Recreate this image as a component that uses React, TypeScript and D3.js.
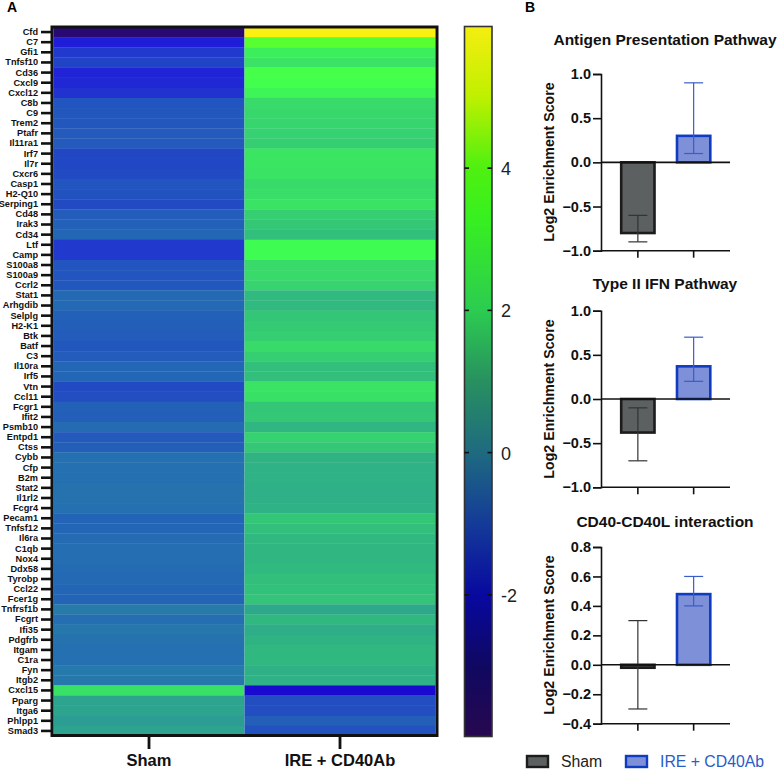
import { useEffect, useRef } from 'react'
import * as d3 from 'd3'

const genes = [
  'Cfd', 'C7', 'Gfi1', 'Tnfsf10', 'Cd36', 'Cxcl9', 'Cxcl12', 'C8b', 'C9', 'Trem2',
  'Ptafr', 'Il11ra1', 'Irf7', 'Il7r', 'Cxcr6', 'Casp1', 'H2-Q10', 'Serping1', 'Cd48', 'Irak3',
  'Cd34', 'Ltf', 'Camp', 'S100a8', 'S100a9', 'Ccrl2', 'Stat1', 'Arhgdib', 'Selplg', 'H2-K1',
  'Btk', 'Batf', 'C3', 'Il10ra', 'Irf5', 'Vtn', 'Ccl11', 'Fcgr1', 'Ifit2', 'Psmb10',
  'Entpd1', 'Ctss', 'Cybb', 'Cfp', 'B2m', 'Stat2', 'Il1rl2', 'Fcgr4', 'Pecam1', 'Tnfsf12',
  'Il6ra', 'C1qb', 'Nox4', 'Ddx58', 'Tyrobp', 'Ccl22', 'Fcer1g', 'Tnfrsf1b', 'Fcgrt', 'Ifi35',
  'Pdgfrb', 'Itgam', 'C1ra', 'Fyn', 'Itgb2', 'Cxcl15', 'Pparg', 'Itga6', 'Phlpp1', 'Smad3',
]

const shamValues = [
  -3.9, -2.0, -1.55, -1.4, -1.85, -1.8, -1.65, -1.15, -1.1, -1.1,
  -1.05, -1.05, -1.35, -1.35, -1.3, -1.15, -1.2, -1.3, -1.0, -0.9,
  -0.8, -1.55, -1.55, -1.15, -1.15, -1.1, -0.75, -0.75, -0.9, -0.95,
  -1.0, -1.1, -1.0, -0.8, -0.8, -1.3, -1.25, -0.9, -0.95, -0.7,
  -1.05, -0.95, -0.6, -0.6, -0.6, -0.55, -0.55, -0.6, -0.85, -0.8,
  -0.7, -0.65, -0.65, -0.7, -0.75, -0.8, -0.85, -0.35, -0.65, -0.45,
  -0.55, -0.6, -0.6, -0.4, -0.45, 2.1, 0.6, 0.6, 0.4, 0.55,
]

const ireValues = [
  5.9, 3.5, 2.5, 2.2, 3.1, 3.05, 2.7, 1.95, 1.9, 1.85,
  1.75, 1.7, 2.25, 2.25, 2.2, 1.95, 2.05, 2.2, 1.7, 1.55,
  1.35, 2.9, 2.9, 1.95, 1.95, 1.8, 1.25, 1.25, 1.5, 1.6,
  1.7, 1.95, 1.7, 1.35, 1.35, 2.2, 2.1, 1.5, 1.55, 1.15,
  1.75, 1.55, 1.05, 1.0, 1.0, 0.95, 0.95, 1.0, 1.5, 1.35,
  1.2, 1.15, 1.15, 1.25, 1.35, 1.4, 1.45, 0.7, 1.2, 0.85,
  1.05, 1.2, 1.2, 0.95, 1.0, -2.6, -1.25, -1.25, -0.95, -1.2,
]

const conditions = ['Sham', 'IRE + CD40Ab']
const colorTicks = [4, 2, 0, -2]

// heatmap cells read lighter than the colorbar in the figure, so two ramps
const rampValues = [-3.97, -2.6, -1.9, -1.2, -0.6, 0, 0.5, 1.2, 2, 3, 3.5, 4.5, 5.97]
const cellRamp = ['#2a0a70', '#1a0ad0', '#2020d8', '#2252c0', '#2470b0', '#2a8aa0', '#2da290', '#30b880', '#38dc68', '#40ff50', '#58ff30', '#a0ff20', '#fff010']
const barValues = [-3.97, -3, -2, -1, 0, 1, 2, 3.3, 4, 5, 5.97]
const barRamp = ['#280850', '#100860', '#0808a0', '#143a98', '#1e6a80', '#289060', '#2ccc50', '#38f020', '#50f010', '#c0f000', '#f5ee10']

const panelTitles = ['Antigen Presentation Pathway', 'Type II IFN Pathway', 'CD40-CD40L interaction']
const panelDomains = [[-1, 1], [-1, 1], [-0.4, 0.8]]
const panelTicks = [
  [-1, -0.5, 0, 0.5, 1],
  [-1, -0.5, 0, 0.5, 1],
  [-0.4, -0.2, 0, 0.2, 0.4, 0.6, 0.8],
]
const panelMeans = [[-0.8, 0.3], [-0.38, 0.37], [-0.02, 0.48]]
const panelLow = [[-0.9, 0.1], [-0.7, 0.2], [-0.3, 0.4]]
const panelHigh = [[-0.6, 0.9], [-0.1, 0.7], [0.3, 0.6]]

const font = '"Liberation Sans", Arial, sans-serif'
const barFill = ['#5c6060', '#7e90d8']
const barStroke = ['#1c1c1c', '#0f3cc0']
const whisker = ['#333333', '#3a5cc8']

export default function App() {
  const ref = useRef<SVGSVGElement>(null)

  useEffect(() => {
    if (!ref.current) return
    const svg = d3.select(ref.current)
    svg.selectAll('*').remove()

    svg.append('text').attr('x', 7).attr('y', 12).style('font', `bold 14px ${font}`).text('A')
    svg.append('text').attr('x', 525).attr('y', 12).style('font', `bold 14px ${font}`).text('B')

    // Heatmap
    const cellColor = d3.scaleLinear<string>().domain(rampValues).range(cellRamp)
    const x = d3.scaleBand().domain(conditions).range([53.5, 435.5])
    const y = d3.scaleBand().domain(genes).range([27, 736])

    conditions.forEach((cond, ci) => {
      const vals = ci === 0 ? shamValues : ireValues
      svg.append('g').selectAll('rect').data(genes).join('rect')
        .attr('x', x(cond)!)
        .attr('y', d => y(d)!)
        .attr('width', x.bandwidth())
        .attr('height', y.bandwidth() + 0.3)
        .attr('fill', (_, i) => cellColor(vals[i]))
    })

    svg.append('rect')
      .attr('x', 52).attr('y', 27)
      .attr('width', 385).attr('height', 708.5)
      .attr('fill', 'none').attr('stroke', '#111').attr('stroke-width', 3)

    const geneAxis = svg.append('g')
      .attr('transform', 'translate(51,0)')
      .call(d3.axisLeft(y).tickSize(10).tickPadding(3))
    geneAxis.select('.domain').remove()
    geneAxis.selectAll('line').attr('stroke', '#111').attr('stroke-width', 2.6)
    geneAxis.selectAll('text')
      .attr('fill', '#111')
      .attr('textLength', null)
      .style('font', `bold 9.2px ${font}`)

    const condAxis = svg.append('g')
      .attr('transform', 'translate(0,736)')
      .call(d3.axisBottom(x).tickSize(13).tickPadding(5))
    condAxis.select('.domain').remove()
    condAxis.selectAll('line').attr('stroke', '#111').attr('stroke-width', 2.8)
    condAxis.selectAll('text')
      .attr('fill', '#111')
      .style('font', `bold 16.5px ${font}`)

    // Colorbar
    const barColor = d3.scaleLinear<string>().domain(barValues).range(barRamp)
    const cy = d3.scaleLinear().domain([-3.97, 5.97]).range([735, 28])
    const grad = svg.append('defs').append('linearGradient')
      .attr('id', 'cbar').attr('x1', 0).attr('x2', 0).attr('y1', 1).attr('y2', 0)
    barValues.forEach(v => {
      grad.append('stop')
        .attr('offset', (v + 3.97) / 9.94)
        .attr('stop-color', barColor(v))
    })
    svg.append('rect')
      .attr('x', 464.5).attr('y', 26.5)
      .attr('width', 27.5).attr('height', 710)
      .attr('fill', 'url(#cbar)').attr('stroke', '#333').attr('stroke-width', 1.6)

    colorTicks.forEach(t => {
      svg.append('line').attr('x1', 464.5).attr('x2', 469).attr('y1', cy(t)).attr('y2', cy(t))
        .attr('stroke', '#111').attr('stroke-width', 1.6)
      svg.append('line').attr('x1', 487.5).attr('x2', 492).attr('y1', cy(t)).attr('y2', cy(t))
        .attr('stroke', '#111').attr('stroke-width', 1.6)
      svg.append('text')
        .attr('x', 501).attr('y', cy(t) + 7)
        .attr('fill', '#222')
        .style('font', `18px ${font}`)
        .text(t)
    })

    // Bar panels
    const tops = [74, 310.7, 547]
    const bottoms = [250.7, 487.3, 723.7]
    const titleY = [45, 289, 527]
    const labelY = [162, 399, 635]
    const px = d3.scaleBand().domain(conditions).range([620, 711.5]).paddingInner(0.36).paddingOuter(0)

    panelTitles.forEach((title, p) => {
      const py = d3.scaleLinear().domain(panelDomains[p]).range([bottoms[p], tops[p]])
      const g = svg.append('g')

      g.append('text')
        .attr('x', 665).attr('y', titleY[p])
        .attr('text-anchor', 'middle')
        .attr('fill', '#111')
        .style('font', `bold 15.5px ${font}`)
        .text(title)

      g.append('text')
        .attr('transform', `translate(554,${labelY[p]}) rotate(-90)`)
        .attr('text-anchor', 'middle')
        .attr('fill', '#111')
        .style('font', `bold 14.2px ${font}`)
        .text('Log2 Enrichment Score')

      conditions.forEach((cond, i) => {
        const mean = panelMeans[p][i]
        const bx = px(cond)!
        const cx = bx + px.bandwidth() / 2
        g.append('rect')
          .attr('x', bx + 1.2)
          .attr('y', Math.min(py(mean), py(0)))
          .attr('width', px.bandwidth() - 2.4)
          .attr('height', Math.abs(py(mean) - py(0)))
          .attr('fill', barFill[i])
          .attr('stroke', barStroke[i])
          .attr('stroke-width', 2.6)

        const lo = py(panelLow[p][i])
        const hi = py(panelHigh[p][i])
        g.append('line').attr('x1', cx).attr('x2', cx).attr('y1', lo).attr('y2', hi)
          .attr('stroke', whisker[i]).attr('stroke-width', 1.2)
        ;[lo, hi].forEach(v => {
          g.append('line').attr('x1', cx - 9.5).attr('x2', cx + 9.5).attr('y1', v).attr('y2', v)
            .attr('stroke', whisker[i]).attr('stroke-width', 1.2)
        })
      })

      // y axis
      const yAxis = g.append('g')
        .attr('transform', 'translate(601,0)')
        .call(d3.axisLeft(py).tickValues(panelTicks[p]).tickSize(8).tickPadding(2).tickFormat(d3.format('.1f') as any))
      yAxis.select('.domain').attr('stroke', '#111').attr('stroke-width', 1.6)
      yAxis.selectAll('line').attr('stroke', '#111').attr('stroke-width', 1.6)
      yAxis.selectAll('text')
        .attr('fill', '#111')
        .style('font', `bold 14.5px ${font}`)

      // zero line, bottom line and group ticks
      g.append('line').attr('x1', 601).attr('x2', 730).attr('y1', py(0)).attr('y2', py(0))
        .attr('stroke', '#111').attr('stroke-width', 1.6)
      g.append('line').attr('x1', 601).attr('x2', 730).attr('y1', bottoms[p]).attr('y2', bottoms[p])
        .attr('stroke', '#111').attr('stroke-width', 1.6)
      conditions.forEach(cond => {
        const cx = px(cond)! + px.bandwidth() / 2
        g.append('line').attr('x1', cx).attr('x2', cx).attr('y1', bottoms[p]).attr('y2', bottoms[p] + 7)
          .attr('stroke', '#111').attr('stroke-width', 1.6)
      })
    })

    // Legend
    const legendX = [527, 626]
    conditions.forEach((cond, i) => {
      svg.append('rect')
        .attr('x', legendX[i]).attr('y', 756)
        .attr('width', 21).attr('height', 11)
        .attr('fill', barFill[i]).attr('stroke', barStroke[i]).attr('stroke-width', 2.4)
      svg.append('text')
        .attr('x', legendX[i] + 34).attr('y', 767)
        .attr('fill', i === 0 ? '#222' : '#2a5cc8')
        .style('font', `15.8px ${font}`)
        .text(cond)
    })
  }, [])

  return (
    <svg
      ref={ref}
      width={778}
      height={770}
      style={{ position: 'absolute', left: 0, top: 0, background: '#fff' }}
    />
  )
}
